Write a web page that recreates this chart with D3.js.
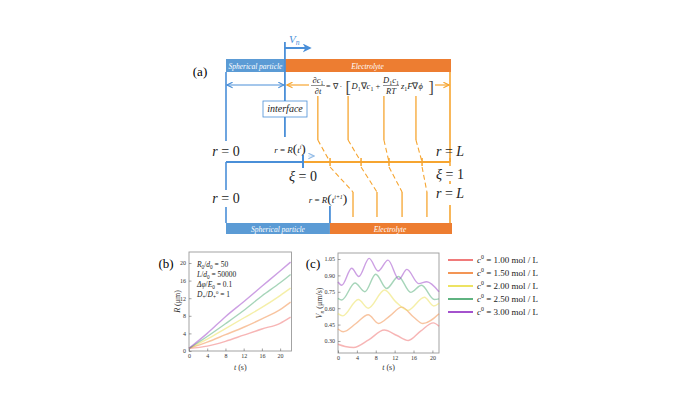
<!DOCTYPE html>
<html>
<head>
<meta charset="utf-8">
<script src="https://cdn.jsdelivr.net/npm/d3@7"></script>
<style>
  body { margin: 0; background: #fff; }
  svg { display: block; font-family: "Liberation Serif", "Times New Roman", serif; }
</style>
</head>
<body>
<svg id="fig" width="700" height="394"></svg>
<script>
/* ---- data ---- */
var concLabels = ['1.00', '1.50', '2.00', '2.50', '3.00'];
var seriesColors = ['#ef6b6b', '#f28a42', '#ebe052', '#4dab73', '#9a3fc8'];

// (b) particle radius R (um) vs t (s)
var radiusT = [0, 4, 8, 12, 16, 20, 22.3];
var radiusRed    = [0.6, 1.1, 2.2, 3.6, 5.0, 6.3, 7.7];
var radiusOrange = [0.6, 2.0, 3.7, 5.4, 7.3, 9.4, 11.1];
var radiusYellow = [0.6, 2.7, 5.1, 7.5, 9.9, 12.6, 14.3];
var radiusGreen  = [0.6, 3.3, 6.2, 9.2, 12.5, 15.5, 17.4];
var radiusPurple = [0.6, 4.0, 7.8, 11.2, 14.7, 18.2, 20.2];

// (c) interface velocity Vn (um/s) vs t (s), [t, v]
var velRed    = [[0, 0.27], [1.5, 0.25], [3.3, 0.24], [6.5, 0.31], [9.8, 0.40], [12.5, 0.35], [14.9, 0.305], [17.5, 0.39], [20.2, 0.466], [21.4, 0.435]];
var velOrange = [[0, 0.41], [1.1, 0.385], [3.8, 0.46], [6.4, 0.54], [8.6, 0.46], [11, 0.53], [13.5, 0.61], [16, 0.52], [18, 0.46], [21.4, 0.55]];
var velYellow = [[0, 0.55], [1, 0.53], [4.3, 0.68], [6.4, 0.60], [9.9, 0.766], [12.2, 0.66], [14.8, 0.58], [18.3, 0.70], [20.3, 0.62], [21.4, 0.645]];
var velGreen  = [[0, 0.69], [0.8, 0.675], [3.6, 0.83], [5.7, 0.75], [8, 0.91], [10.3, 0.78], [12.8, 0.89], [15.4, 0.745], [17.7, 0.81], [20.4, 0.68], [21.4, 0.685]];
var velPurple = [[0, 0.84], [0.8, 0.81], [2.9, 0.965], [4.4, 0.89], [6.6, 1.056], [8.5, 0.94], [10.6, 1.04], [12.9, 0.865], [14.6, 0.955], [17.1, 0.825], [18.8, 0.842], [21.4, 0.75]];

var radiusTicksT = [0, 4, 8, 12, 16, 20];
var radiusTicksR = [0, 4, 8, 12, 16, 20];
var velTicksT = [0, 4, 8, 12, 16, 20];
var velTicksV = [0.30, 0.45, 0.60, 0.75, 0.90, 1.05];

// parameter box of (b): [text, style] runs, i = italic, b = subscript, p = superscript
var paramLines = [
    [['R', 'i'], ['0', 'b'], ['/', ''], ['d', 'i'], ['0', 'b'], [' = 50', '']],
    [['L', 'i'], ['/', ''], ['d', 'i'], ['0', 'b'], [' = 50000', '']],
    [['\u0394\u03C6', 'i'], ['/', ''], ['E', 'i'], ['0', 'b'], [' = 0.1', '']],
    [['D', 'i'], ['+', 'b'], ['/', ''], ['D', 'i'], ['+', 'b'], ['0', 'p'], [' = 1', '']]
];

// (a) schematic mesh, node positions as fractions
var topNodes = [0.263, 0.41, 0.545, 0.705, 0.848, 1];     // r/L at t^i
var xiNodes  = [0, 0.184, 0.395, 0.585, 0.81, 1];         // xi
var botNodes = [0.464, 0.567, 0.674, 0.786, 0.897, 1];    // r/L at t^(i+1)

/* ---- helpers ---- */
var svg = d3.select('#fig');
var BLUE = '#4a8fd8', BLUE_BAR = '#5b9bd5', ORANGE = '#f6a530', ORANGE_BAR = '#ed7d31';

// append styled runs to a <text>
function rich(t, runs, size) {
    runs.forEach(function (r) {
        var s = t.append('tspan').text(r[0]);
        var st = r[1] || '';
        if (st.indexOf('i') >= 0) s.attr('font-style', 'italic');
        if (st.indexOf('b') >= 0) s.attr('font-size', size * 0.7).attr('baseline-shift', -size * 0.22);
        if (st.indexOf('p') >= 0) s.attr('font-size', size * 0.65).attr('baseline-shift', size * 0.4);
        if (st.indexOf('L') >= 0) s.attr('font-size', size * 1.5).attr('font-weight', 300);
    });
    return t;
}

var defs = svg.append('defs');
function marker(id, color, w) {
    defs.append('marker').attr('id', id)
        .attr('viewBox', '0 0 10 10').attr('refX', 9).attr('refY', 5)
        .attr('markerWidth', w).attr('markerHeight', w).attr('orient', 'auto-start-reverse')
        .attr('markerUnits', 'userSpaceOnUse')
        .append('path').attr('d', 'M1,1 L9,5 L1,9').attr('fill', 'none')
        .attr('stroke', color).attr('stroke-width', 1.6);
}
marker('arrBlue', BLUE, 7);
marker('arrOrange', ORANGE, 7);
defs.append('marker').attr('id', 'arrVn')
    .attr('viewBox', '0 0 10 10').attr('refX', 8).attr('refY', 5)
    .attr('markerWidth', 9).attr('markerHeight', 9).attr('orient', 'auto')
    .attr('markerUnits', 'userSpaceOnUse')
    .append('path').attr('d', 'M0,0 L10,5 L0,10 L3,5 z').attr('fill', BLUE);

var xr = d3.scaleLinear().domain([0, 1]).range([226, 450]);
var xXi = d3.scaleLinear().domain([0, 1]).range([303, 450]);
var a = svg.append('g');

function seg(g, x1, y1, x2, y2, color, w, dash) {
    var l = g.append('line').attr('x1', x1).attr('y1', y1).attr('x2', x2).attr('y2', y2)
        .attr('stroke', color).attr('stroke-width', w || 1.6);
    if (dash) l.attr('stroke-dasharray', dash);
    return l;
}

/* ---- (a) schematic ---- */
a.append('rect').attr('x', xr(0)).attr('y', 59).attr('width', xr(topNodes[0]) - xr(0)).attr('height', 13).attr('fill', BLUE_BAR);
a.append('rect').attr('x', xr(topNodes[0])).attr('y', 59).attr('width', xr(1) - xr(topNodes[0]) + 1).attr('height', 13).attr('fill', ORANGE_BAR);
a.append('rect').attr('x', xr(0)).attr('y', 223).attr('width', xr(botNodes[0]) - xr(0)).attr('height', 11).attr('fill', BLUE_BAR);
a.append('rect').attr('x', xr(botNodes[0])).attr('y', 223).attr('width', xr(1) - xr(botNodes[0]) + 2).attr('height', 11).attr('fill', ORANGE_BAR);
function barText(x, y, s) {
    a.append('text').attr('x', x).attr('y', y).attr('text-anchor', 'middle')
        .attr('font-size', 7.5).attr('font-style', 'italic').attr('fill', '#fff').text(s);
}
barText((xr(0) + xr(topNodes[0])) / 2, 68.5, 'Spherical particle');
barText((xr(topNodes[0]) + xr(1)) / 2, 68.5, 'Electrolyte');
barText((xr(0) + xr(botNodes[0])) / 2, 231.5, 'Spherical particle');
barText((xr(botNodes[0]) + xr(1)) / 2, 231.5, 'Electrolyte');

// r = 0 boundary
seg(a, xr(0), 72, xr(0), 141, BLUE);
seg(a, xr(0), 162, xr(0), 190, BLUE);
seg(a, xr(0), 207, xr(0), 223, BLUE);
// r = L boundary
seg(a, xr(1), 72, xr(1), 162, ORANGE);
seg(a, xr(1), 181, xr(1), 184, ORANGE);
seg(a, xr(1), 205, xr(1), 223, ORANGE);

// interface at t^i, moving with V_n
seg(a, xr(topNodes[0]), 42, xr(topNodes[0]), 137, BLUE, 1.8);
seg(a, xr(topNodes[0]), 48, xr(topNodes[0]) + 25, 48, BLUE, 2).attr('marker-end', 'url(#arrVn)');
rich(a.append('text').attr('x', xr(topNodes[0]) + 4).attr('y', 43).attr('font-size', 11).attr('fill', BLUE),
    [['V', 'i'], ['n', 'ib']], 11);

// extent arrows
seg(a, xr(0) + 1, 85, xr(topNodes[0]) - 1, 85, BLUE, 1)
    .attr('marker-start', 'url(#arrBlue)').attr('marker-end', 'url(#arrBlue)');
seg(a, 309, 85, xr(topNodes[0]) + 2, 85, ORANGE, 1.2).attr('marker-end', 'url(#arrOrange)');
seg(a, 435, 85, xr(1) - 1, 85, ORANGE, 1.2).attr('marker-end', 'url(#arrOrange)');

// Nernst-Planck equation
var eq = a.append('g').attr('fill', '#222');
var EQ = 8.5;
function frac(cx, hw, num, den) {
    rich(eq.append('text').attr('x', cx).attr('y', 83).attr('text-anchor', 'middle').attr('font-size', EQ), num, EQ);
    eq.append('line').attr('x1', cx - hw).attr('x2', cx + hw).attr('y1', 85.5).attr('y2', 85.5)
        .attr('stroke', '#222').attr('stroke-width', 0.5);
    rich(eq.append('text').attr('x', cx).attr('y', 93.5).attr('text-anchor', 'middle').attr('font-size', EQ), den, EQ);
}
frac(318, 7, [['\u2202', ''], ['c', 'i'], ['1', 'b']], [['\u2202', ''], ['t', 'i']]);
eq.append('text').attr('x', 326).attr('y', 88.5).attr('font-size', 8).text('= \u2207 \u00B7');
eq.append('text').attr('x', 345.5).attr('y', 92.5).attr('font-size', 16).attr('font-weight', 300).attr('fill', '#444').text('[');
rich(eq.append('text').attr('x', 351.5).attr('y', 88.5).attr('font-size', EQ),
    [['D', 'i'], ['1', 'b'], ['\u2207', ''], ['c', 'i'], ['1', 'b'], [' +', '']], EQ);
frac(391, 8, [['D', 'i'], ['1', 'b'], ['c', 'i'], ['1', 'b']], [['RT', 'i']]);
rich(eq.append('text').attr('x', 401).attr('y', 88.5).attr('font-size', EQ),
    [['z', 'i'], ['1', 'b'], ['F', 'i'], ['\u2207', ''], ['\u03D5', 'i']], EQ);
eq.append('text').attr('x', 428.5).attr('y', 92.5).attr('font-size', 16).attr('font-weight', 300).attr('fill', '#444').text(']');

// interface label
a.append('rect').attr('x', 263).attr('y', 101).attr('width', 44).attr('height', 16)
    .attr('fill', '#fff').attr('stroke', BLUE).attr('stroke-width', 0.8);
a.append('text').attr('x', 285).attr('y', 112).attr('text-anchor', 'middle')
    .attr('font-size', 10).attr('font-style', 'italic').attr('fill', '#222').text('interface');

// mesh mapping: r at t^i -> xi -> r at t^(i+1)
d3.range(1, 5).forEach(function (i) {
    var x0 = xr(topNodes[i]), x1 = xXi(xiNodes[i]), x2 = xr(botNodes[i]);
    seg(a, x0, 96, x0, 140, ORANGE, 1.3);
    seg(a, x0, 140, x1, 162, ORANGE, 1.1, '5,3');
    seg(a, x1, 167, x2, 192, ORANGE, 1.1, '5,3');
    seg(a, x2, 192, x2, 217, ORANGE, 1.3);
});

// fixed computational domain xi in [0, 1]
seg(a, xr(0), 162, xXi(0), 162, BLUE, 1.8);
seg(a, xXi(0), 162, xXi(1), 162, ORANGE, 2);
seg(a, xXi(0), 155, xXi(0), 168, BLUE, 2);
xiNodes.slice(1).forEach(function (v) { seg(a, xXi(v), 158, xXi(v), 166, ORANGE, 1.5); });
seg(a, xXi(0) + 5, 156, xXi(0) + 11, 156, '#9cc2ea', 0.8).attr('marker-end', 'url(#arrBlue)').attr('opacity', 0.6);

// interface at t^(i+1)
var ip = d3.interpolate([xXi(0), 167], [xr(botNodes[0]), 206]);
var p1 = ip(0.42), p2 = ip(0.62);
seg(a, p1[0], p1[1], p2[0], p2[1], BLUE, 1.6);
seg(a, xr(botNodes[0]), 206, xr(botNodes[0]), 223, BLUE, 1.8);

function eqLabel(x, y, size, runs) {
    rich(a.append('text').attr('x', x).attr('y', y).attr('text-anchor', 'middle')
        .attr('font-size', size).attr('fill', '#222'), runs, size);
}
a.append('text').attr('x', 200).attr('y', 76).attr('text-anchor', 'middle').attr('font-size', 13).text('(a)');
eqLabel(xr(0), 156, 14, [['r', 'i'], [' = 0', '']]);
eqLabel(xr(0), 203, 14, [['r', 'i'], [' = 0', '']]);
eqLabel(xr(1), 156, 14, [['r', 'i'], [' = ', ''], ['L', 'i']]);
eqLabel(xr(1), 198, 14, [['r', 'i'], [' = ', ''], ['L', 'i']]);
eqLabel(xXi(0), 181, 14, [['\u03BE', 'i'], [' = 0', '']]);
eqLabel(xr(1), 179, 14, [['\u03BE', 'i'], [' = 1', '']]);
eqLabel(290, 153, 9, [['r', 'i'], [' = ', ''], ['R', 'i'], ['(', 'L'], ['t', 'i'], ['i', 'ip'], [')', 'L']]);
eqLabel(328, 203, 9, [['r', 'i'], [' = ', ''], ['R', 'i'], ['(', 'L'], ['t', 'i'], ['i+1', 'ip'], [')', 'L']]);

/* ---- plot panels ---- */
function panel(opt) {
    var g = svg.append('g');
    var x = d3.scaleLinear().domain(opt.xDomain).range([opt.left, opt.right]);
    var y = d3.scaleLinear().domain(opt.yDomain).range([opt.bottom, opt.top]);
    g.append('rect').attr('x', opt.left).attr('y', opt.top)
        .attr('width', opt.right - opt.left).attr('height', opt.bottom - opt.top)
        .attr('fill', '#fff').attr('stroke', '#9a9a9a').attr('stroke-width', 0.9);
    var ax = g.append('g').attr('transform', 'translate(0,' + opt.bottom + ')')
        .call(d3.axisBottom(x).tickValues(opt.xTicks).tickSize(-2.5).tickPadding(3).tickFormat(d3.format('d')));
    var ay = g.append('g').attr('transform', 'translate(' + opt.left + ',0)')
        .call(d3.axisLeft(y).tickValues(opt.yTicks).tickSize(-2.5).tickPadding(3).tickFormat(opt.yFormat));
    [ax, ay].forEach(function (s) {
        s.select('.domain').remove();
        s.selectAll('.tick line').attr('stroke', '#666').attr('stroke-width', 0.6);
        s.selectAll('text').attr('font-family', '"Liberation Serif", serif').attr('font-size', 6).attr('fill', '#333');
    });
    var line = d3.line().x(function (d) { return x(d[0]); }).y(function (d) { return y(d[1]); })
        .curve(opt.curve);
    opt.series.forEach(function (s, i) {
        g.append('path').datum(s).attr('d', line).attr('fill', 'none')
            .attr('stroke', seriesColors[i]).attr('stroke-opacity', 0.5).attr('stroke-width', 1.4);
    });
    g.append('text').attr('x', opt.label[0]).attr('y', opt.label[1]).attr('text-anchor', 'middle')
        .attr('font-size', 13).text(opt.name);
    rich(g.append('text').attr('x', (opt.left + opt.right) / 2).attr('y', 370).attr('text-anchor', 'middle')
        .attr('font-size', 8).attr('fill', '#333'), [['t', 'i'], [' (s)', '']], 8);
    rich(g.append('text').attr('transform', 'translate(' + opt.yTitleX + ',' + ((opt.top + opt.bottom) / 2) + ') rotate(-90)')
        .attr('text-anchor', 'middle').attr('font-size', 8).attr('fill', '#333'), opt.yTitle, 8);
    return { g: g, x: x, y: y };
}

var radiusSeries = [radiusRed, radiusOrange, radiusYellow, radiusGreen, radiusPurple].map(function (r) {
    return radiusT.map(function (t, k) { return [t, r[k]]; });
});
var pb = panel({
    left: 189, right: 291.5, top: 252, bottom: 351,
    xDomain: [0, 22.5], yDomain: [0, 22.5],
    xTicks: radiusTicksT, yTicks: radiusTicksR, yFormat: d3.format('d'),
    series: radiusSeries, curve: d3.curveMonotoneX,
    name: '(b)', label: [166, 268], yTitleX: 180,
    yTitle: [['R', 'i'], [' (\u03BCm)', '']]
});
paramLines.forEach(function (p, i) {
    rich(pb.g.append('text').attr('x', 197).attr('y', 267 + i * 10).attr('font-size', 7.5).attr('fill', '#222'), p, 7.5);
});

var pc = panel({
    left: 338, right: 439, top: 253, bottom: 353,
    xDomain: [0, 21.4], yDomain: [0.19, 1.105],
    xTicks: velTicksT, yTicks: velTicksV, yFormat: d3.format('.2f'),
    series: [velRed, velOrange, velYellow, velGreen, velPurple], curve: d3.curveMonotoneX,
    name: '(c)', label: [313, 268], yTitleX: 322,
    yTitle: [['V', 'i'], ['n', 'ib'], [' (\u03BCm/s)', '']]
});

// legend
var lg = svg.append('g');
concLabels.forEach(function (c, i) {
    var yy = 260 + i * 13;
    lg.append('line').attr('x1', 448).attr('x2', 473).attr('y1', yy).attr('y2', yy)
        .attr('stroke', seriesColors[i]).attr('stroke-width', 1.8);
    rich(lg.append('text').attr('x', 477).attr('y', yy + 3).attr('font-size', 9).attr('fill', '#222'),
        [['c', 'i'], ['0', 'p'], [' = ' + c + ' mol / L', '']], 9);
});
</script>
</body>
</html>
